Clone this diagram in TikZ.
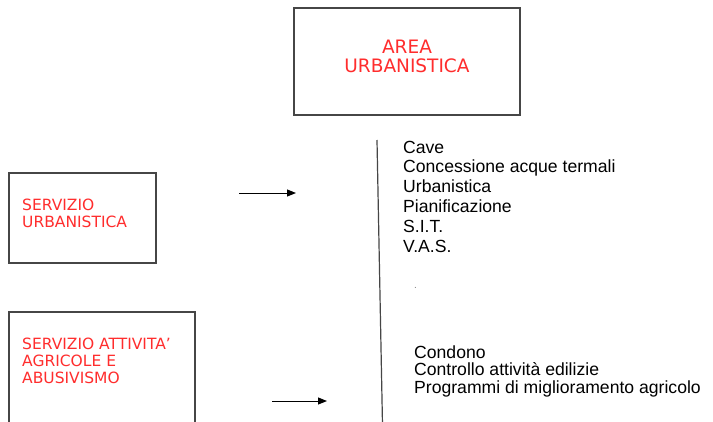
\documentclass[tikz,border=0pt]{standalone}
\usepackage{fontspec}
\setmainfont{Liberation Sans}
\newfontfamily\verd{DejaVu Sans}
\usetikzlibrary{arrows.meta}
\definecolor{boxred}{RGB}{255,45,45}
\definecolor{edge}{RGB}{70,70,70}
\begin{document}
\begin{tikzpicture}[x=1pt,y=-1pt,
  box/.style={draw=edge, line width=1.1pt, inner sep=0pt},
  redtxt/.style={text=boxred, font=\verd\fontsize{15.5}{17}\selectfont, inner sep=0pt, align=left, anchor=base west},
  toptxt/.style={text=boxred, font=\verd\fontsize{18.5}{19}\selectfont, inner sep=0pt, align=center, anchor=base},
  listtxt/.style={text=black, font=\fontsize{17.6}{19.8}\selectfont, inner sep=0pt, align=left, anchor=base west},
  arr/.style={draw=black, line width=1pt, -{Triangle[length=9pt,width=7pt]}}]
\useasboundingbox (0,0) rectangle (713,421);
\clip (0,0) rectangle (713,421);
\fill[white] (0,0) rectangle (713,421);
% top box
\node[box, minimum width=226pt, minimum height=107pt] (area) at (407,61.5) {};
\node[toptxt] (areat) at (407,72) {AREA\\URBANISTICA};
% servizio urbanistica
\node[box, minimum width=147pt, minimum height=90pt] (su) at (82.5,218) {};
\node[redtxt] (sut) at (22,227) {SERVIZIO\\URBANISTICA};
% servizio attivita
\node[box, minimum width=186pt, minimum height=140pt] (sa) at (102,382) {};
\node[redtxt] (sat) at (22,383) {SERVIZIO ATTIVITA’\\AGRICOLE E\\ABUSIVISMO};
% arrows
\coordinate (a1s) at (239,193);
\coordinate (a1e) at (296,193);
\draw[arr] (a1s) -- (a1e);
\coordinate (a2s) at (272,401);
\coordinate (a2e) at (327,401);
\draw[arr] (a2s) -- (a2e);
% vertical line
\coordinate (vt) at (377,140);
\coordinate (vb) at (382.5,425);
\draw[edge, line width=1.2pt] (vt) -- (vb);
% lists
\node[listtxt] (l1) at (403,252) {Cave\\Concessione acque termali\\Urbanistica\\Pianificazione\\S.I.T.\\V.A.S.};
\node[listtxt, font=\fontsize{10}{12}\selectfont, text=gray] (dot) at (414,288) {.};
\node[listtxt, font=\fontsize{17.6}{17.6}\selectfont] (l2) at (414,393.5) {Condono\\Controllo attività edilizie\\Programmi di miglioramento agricolo};
\end{tikzpicture}
\end{document}
